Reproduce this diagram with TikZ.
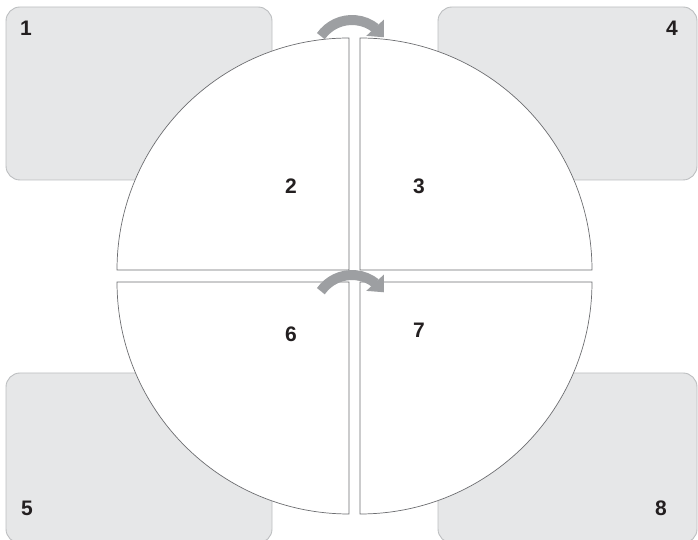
\documentclass[tikz,border=0pt]{standalone}
\usepackage{fontspec}
\setmainfont{Liberation Sans}
\usepackage{xcolor}
\usepackage{tikz}
\usetikzlibrary{arrows.meta,bending}
\definecolor{boxgray}{HTML}{E6E7E8}
\definecolor{boxline}{HTML}{BCBEC0}
\definecolor{segline}{HTML}{6D6E71}
\definecolor{arrowgray}{HTML}{9D9FA2}
\definecolor{numcol}{HTML}{231F20}

\begin{document}
\begin{tikzpicture}[x=1pt,y=1pt,
  panel/.style={fill=boxgray,draw=boxline,line width=0.9pt,rounded corners=14pt},
  segment/.style={fill=white,draw=segline,line width=0.7pt},
  turn/.style={draw=arrowgray,line width=10pt,-{Triangle[length=13pt,width=23pt,flex]}},
  num/.style={font=\fontsize{21}{25}\selectfont\bfseries,text=numcol}]
\useasboundingbox (0,0) rectangle (698,540);
% corner panels
\draw[panel] (6,360) rectangle (272,533);
\draw[panel] (438,360) rectangle (697,533);
\draw[panel] (6,-3) rectangle (272,167);
\draw[panel] (438,-3) rectangle (697,167);
% four quarters of the disc
\draw[segment] (349,270) -- ++(-232,0) arc[start angle=180,end angle=90,radius=232] -- cycle;
\draw[segment] (360,270) -- ++(0,232) arc[start angle=90,end angle=0,radius=232] -- cycle;
\draw[segment] (349,258) -- ++(-232,0) arc[start angle=180,end angle=270,radius=232] -- cycle;
\draw[segment] (360,258) -- ++(232,0) arc[start angle=0,end angle=-90,radius=232] -- cycle;
% turning arrows
\draw[turn] (352,482) ++(145:38) arc[start angle=145,end angle=33,radius=38];
\draw[turn] (352,227) ++(145:38) arc[start angle=145,end angle=33,radius=38];
% numbers
\foreach \n/\x/\y in {1/26/512, 4/672/512, 5/27/32, 8/661/32, 2/291/354, 3/419/354, 6/291/206, 7/419/210}
  \node[num] (n\n) at (\x,\y) {\n};
\end{tikzpicture}
\end{document}
